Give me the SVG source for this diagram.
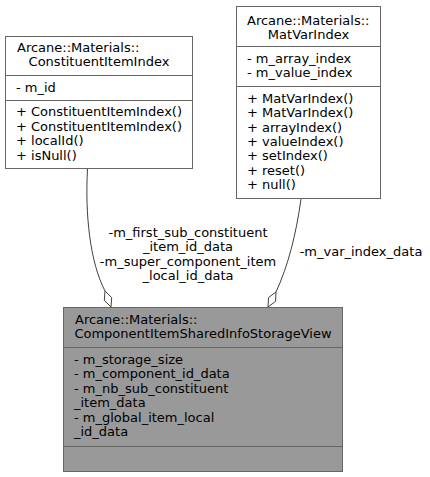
<svg xmlns="http://www.w3.org/2000/svg" width="430" height="477" viewBox="0 0 430 477">
<style>
text{font-family:"DejaVu Sans",sans-serif;font-size:13px;fill:#000}
.c{text-anchor:middle}
.box{fill:#fff;stroke:#666;stroke-width:1}
.main{fill:#999;stroke:#666;stroke-width:1}
.div{stroke:#666;stroke-width:1}
.edge{fill:none;stroke:#404040;stroke-width:1}
.dia{fill:#fff;stroke:#404040;stroke-width:1}
</style>
<rect width="430" height="477" fill="#fff"/>
<g id="connectors">
<path class="edge" d="M87.5,169 C85,215 90,262 105,291"/>
<polygon class="dia" points="105,291 111.7,297.6 111,307 104.3,300.4"/>
<path class="edge" d="M301,199 C296,235 288,266 276,292"/>
<polygon class="dia" points="276,292 275.5,301.4 268,307 268.5,297.6"/>
<g id="labels">
<text class="c" x="188" y="237">-m_first_sub_constituent</text>
<text class="c" x="188" y="251">_item_id_data</text>
<text class="c" x="188" y="266">-m_super_component_item</text>
<text class="c" x="188" y="280">_local_id_data</text>
<text class="c" x="361" y="256">-m_var_index_data</text>
</g>
</g>
<g id="node_main">
<rect class="main" x="63.5" y="307.5" width="279" height="164"/>
<line class="div" x1="63.5" y1="347.5" x2="342.5" y2="347.5"/>
<line class="div" x1="63.5" y1="446.5" x2="342.5" y2="446.5"/>
<text x="75" y="324">Arcane::Materials::</text>
<text class="c" x="203" y="338">ComponentItemSharedInfoStorageView</text>
<text x="74" y="364">- m_storage_size</text>
<text x="74" y="378">- m_component_id_data</text>
<text x="74" y="393">- m_nb_sub_constituent</text>
<text x="74" y="407">_item_data</text>
<text x="74" y="422">- m_global_item_local</text>
<text x="74" y="436">_id_data</text>
</g>
<g id="node_constituent">
<rect class="box" x="5.5" y="36.5" width="187" height="132"/>
<line class="div" x1="5.5" y1="75.5" x2="192.5" y2="75.5"/>
<line class="div" x1="5.5" y1="100.5" x2="192.5" y2="100.5"/>
<text x="17" y="52">Arcane::Materials::</text>
<text class="c" x="99" y="66">ConstituentItemIndex</text>
<text x="16" y="92">- m_id</text>
<text x="16" y="116">+ ConstituentItemIndex()</text>
<text x="16" y="131">+ ConstituentItemIndex()</text>
<text x="16" y="145">+ localId()</text>
<text x="16" y="160">+ isNull()</text>
</g>
<g id="node_matvar">
<rect class="box" x="236.5" y="6.5" width="144" height="192"/>
<line class="div" x1="236.5" y1="46.5" x2="380.5" y2="46.5"/>
<line class="div" x1="236.5" y1="86.5" x2="380.5" y2="86.5"/>
<text x="247" y="25">Arcane::Materials::</text>
<text class="c" x="308.5" y="39">MatVarIndex</text>
<text x="247" y="63">- m_array_index</text>
<text x="247" y="77">- m_value_index</text>
<text x="247" y="103">+ MatVarIndex()</text>
<text x="247" y="117">+ MatVarIndex()</text>
<text x="247" y="132">+ arrayIndex()</text>
<text x="247" y="146">+ valueIndex()</text>
<text x="247" y="160">+ setIndex()</text>
<text x="247" y="175">+ reset()</text>
<text x="247" y="189">+ null()</text>
</g>
</svg>
